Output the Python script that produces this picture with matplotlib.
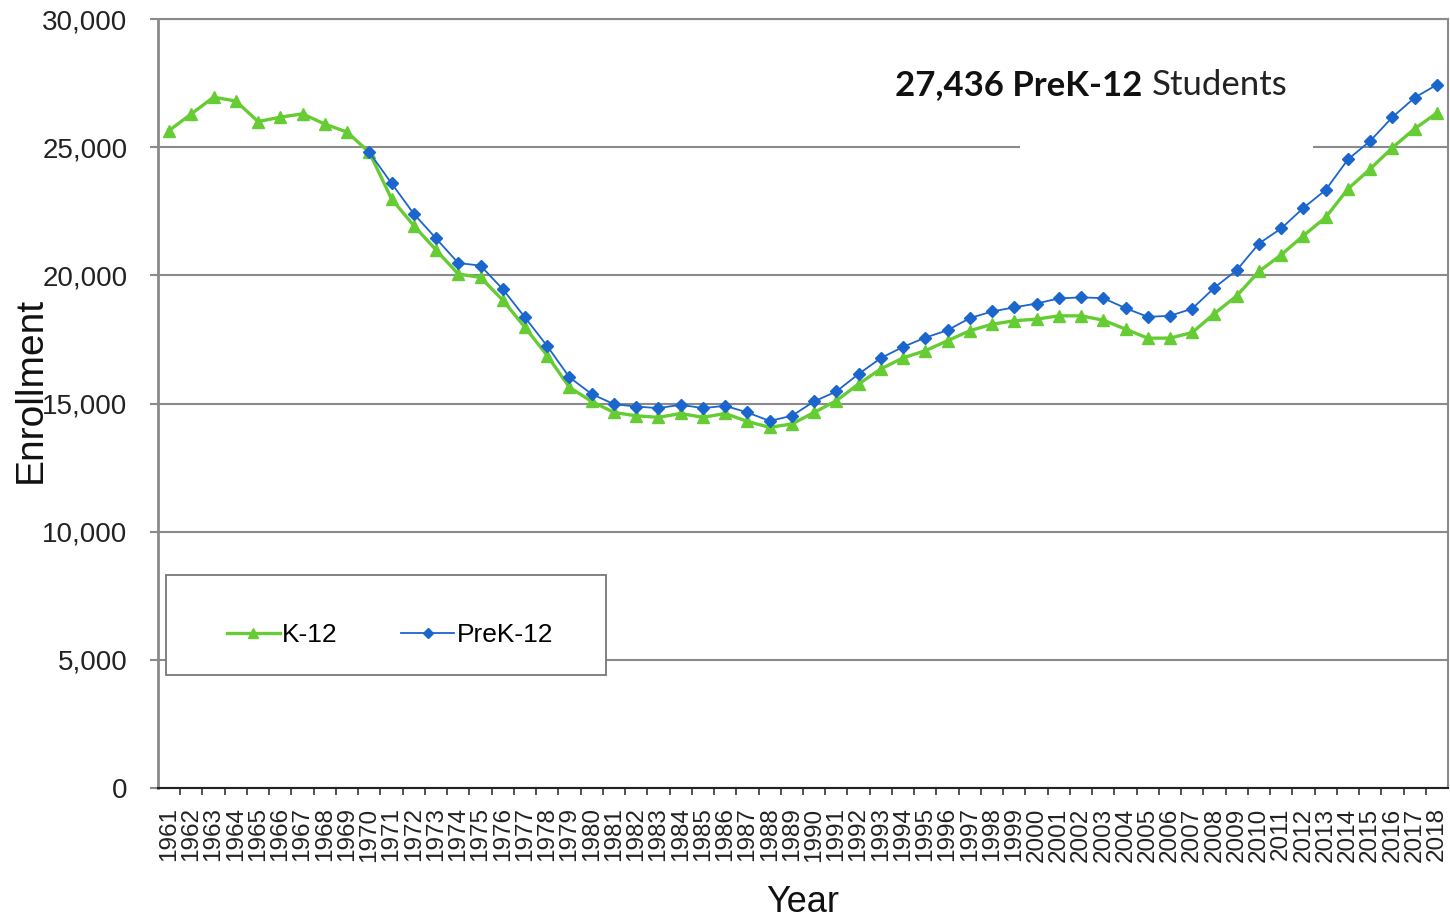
import matplotlib
matplotlib.use("Agg")
import matplotlib.pyplot as plt
from matplotlib.patches import Rectangle
from matplotlib.lines import Line2D
from matplotlib.ticker import FuncFormatter

# enrollment
years_k12 = list(range(1961, 2019))
k12 = [25650, 26300, 26950, 26800, 26000, 26170, 26300, 25900, 25590, 24800,
       22980, 21940, 20990, 20050, 19920, 19030, 17970, 16870, 15630, 15080,
       14650, 14520, 14460, 14610, 14460, 14610, 14300, 14070, 14200, 14650,
       15110, 15760, 16350, 16780, 17060, 17450, 17840, 18090, 18230, 18290,
       18420, 18420, 18250, 17900, 17550, 17550, 17770, 18510, 19200, 20150,
       20800, 21550, 22260, 23370, 24150, 24980, 25720, 26330]

years_prek = list(range(1970, 2019))
prek12 = [24800, 23590, 22400, 21440, 20480, 20380, 19460, 18360, 17240, 16020,
          15370, 14975, 14880, 14820, 14950, 14820, 14910, 14650, 14320, 14520,
          15080, 15470, 16150, 16770, 17210, 17570, 17860, 18330, 18590, 18750,
          18900, 19100, 19140, 19110, 18720, 18380, 18420, 18700, 19520, 20200,
          21240, 21830, 22630, 23330, 24520, 25240, 26170, 26930, 27436]

y_ticks = [0, 5000, 10000, 15000, 20000, 25000, 30000]

green = "#66CC33"
blue = "#1A66CC"
grid_gray = "#8a8a8a"

plt.rcParams['font.family'] = ['Liberation Sans', 'DejaVu Sans']

fig = plt.figure(figsize=(14.5, 9.22), dpi=100)
ax = fig.add_axes([158 / 1450, 1 - 788 / 922, 1290 / 1450, 769 / 922])

ax.plot(years_k12, k12, color=green, lw=2.4, marker="^", ms=9, zorder=3)
ax.plot(years_prek, prek12, color=blue, lw=1.3, marker="D", ms=6, zorder=4)

ax.set_xlim(1960.5, 2018.5)
ax.set_ylim(0, 30000)

ax.set_yticks(y_ticks)
ax.yaxis.set_major_formatter(FuncFormatter(lambda v, p: f"{int(v):,}"))
ax.tick_params(axis="y", length=6, width=1.5, color=grid_gray, pad=16,
               labelsize=20, labelcolor="#222222")
ax.grid(axis="y", color=grid_gray, lw=1.5)
ax.set_axisbelow(True)

ax.set_xticks(years_k12)
ax.set_xticklabels([str(y) for y in years_k12], rotation=90)
ax.set_xticks([y + 0.5 for y in years_k12[:-1]], minor=True)
ax.tick_params(axis="x", which="major", length=0, pad=14, labelsize=17.5,
               labelcolor="#222222")
ax.tick_params(axis="x", which="minor", length=5, width=1.2, color="#333333")

for side in ["left", "right", "top"]:
    ax.spines[side].set_color(grid_gray)
    ax.spines[side].set_linewidth(1.5)
ax.spines["left"].set_linewidth(2)
ax.spines["bottom"].set_color("#222222")
ax.spines["bottom"].set_linewidth(1.5)

# white text box hiding part of the 25,000 grid line
ax.add_patch(Rectangle((0.668, 0.83), 0.227, 0.12, transform=ax.transAxes,
                       facecolor="white", edgecolor="none", zorder=1))

# legend box
ax.add_patch(Rectangle((8 / 1290, 113 / 769), 440 / 1290, 100 / 769,
                       transform=ax.transAxes, facecolor="white",
                       edgecolor="#777777", lw=1.3, zorder=5))
handles = [
    Line2D([], [], color=green, lw=2.4, marker="^", ms=7),
    Line2D([], [], color=blue, lw=1.3, marker="D", ms=5),
]
leg = ax.legend(handles, ["K-12", "PreK-12"], ncol=2, frameon=False,
                loc="center", bbox_to_anchor=(70 / 1290, 103 / 769, 324 / 1290, 100 / 769),
                fontsize=19, handlelength=2.0, handletextpad=0.1,
                columnspacing=2.4, borderpad=0, borderaxespad=0)
leg.set_zorder(6)

fig.text(1142 / 1450, 1 - 95 / 922, "27,436 PreK-12", ha="right", va="baseline",
         fontsize=25, fontweight="bold", family="Lato", color="#111111")
fig.text(1152 / 1450, 1 - 95 / 922, "Students", ha="left", va="baseline",
         fontsize=25, family="Lato", color="#222222")

fig.text(31 / 1450, 1 - 390 / 922, "Enrollment", rotation=90, ha="center",
         va="center", fontsize=28, color="#111111")
fig.text(803 / 1450, 1 - 902 / 922, "Year", ha="center", va="center",
         fontsize=26, color="#111111")

fig.savefig("out.png", dpi=100, facecolor="white")
